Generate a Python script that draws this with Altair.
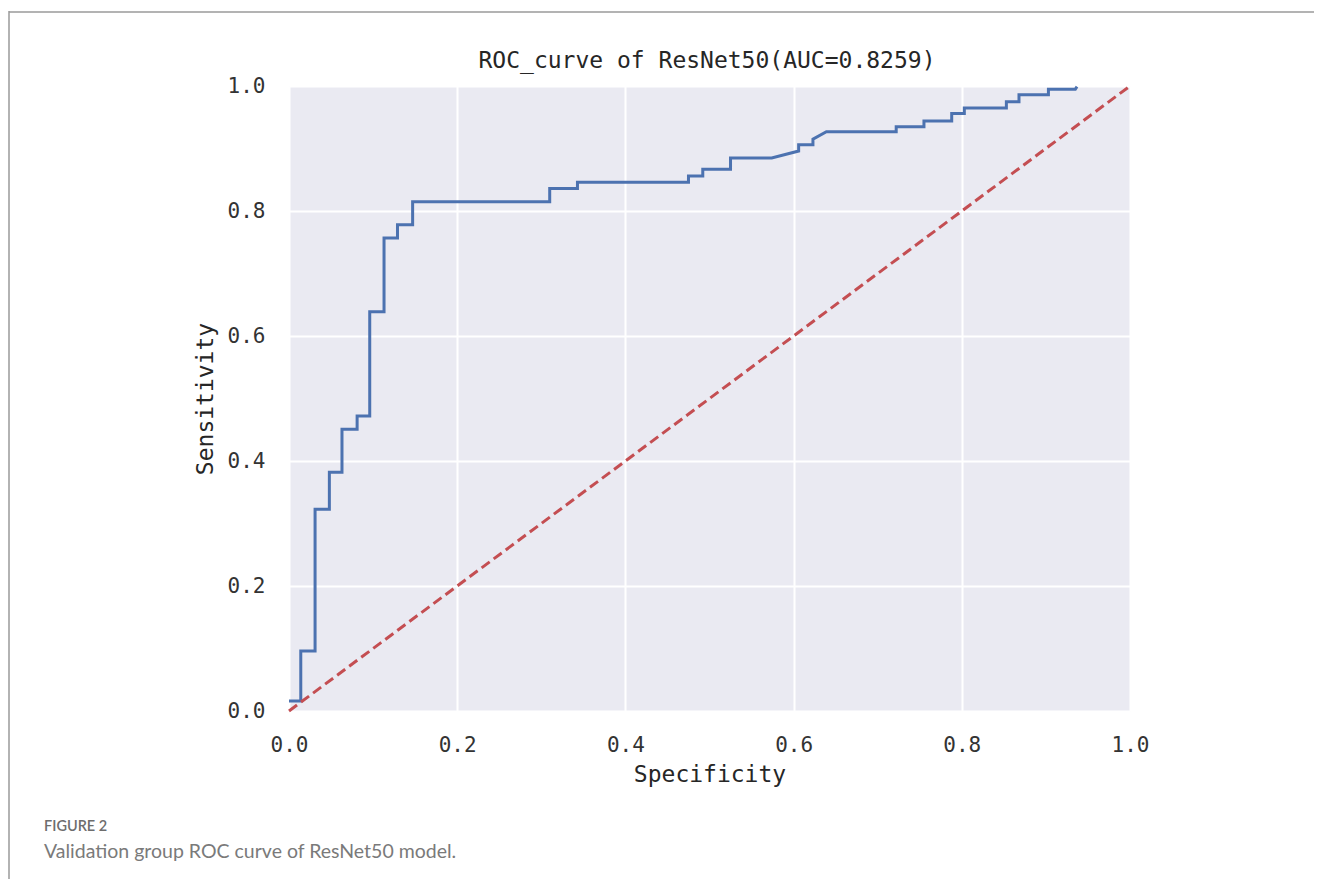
import altair as alt
import pandas as pd

# ROC curve points (false positive rate axis labelled "Specificity", true positive rate "Sensitivity")
fpr = [0.0, 0.014, 0.014, 0.031, 0.031, 0.048, 0.048, 0.063, 0.063, 0.081, 0.081, 0.096,
       0.096, 0.113, 0.113, 0.129, 0.129, 0.147, 0.147, 0.310, 0.310, 0.343, 0.343, 0.475,
       0.475, 0.492, 0.492, 0.525, 0.525, 0.574, 0.606, 0.606, 0.623, 0.623, 0.639, 0.722,
       0.722, 0.755, 0.755, 0.788, 0.788, 0.803, 0.803, 0.853, 0.853, 0.868, 0.868, 0.903,
       0.903, 0.935, 0.937]
tpr = [0.016, 0.016, 0.096, 0.096, 0.323, 0.323, 0.382, 0.382, 0.451, 0.451, 0.472, 0.472,
       0.639, 0.639, 0.757, 0.757, 0.778, 0.778, 0.815, 0.815, 0.836, 0.836, 0.846, 0.846,
       0.856, 0.856, 0.867, 0.867, 0.885, 0.885, 0.896, 0.906, 0.906, 0.915, 0.927, 0.927,
       0.935, 0.935, 0.944, 0.944, 0.956, 0.956, 0.965, 0.965, 0.975, 0.975, 0.986, 0.986,
       0.995, 0.995, 0.999]

diag_x = [0.0, 1.0]
diag_y = [0.0, 1.0]

tick_values = [0.0, 0.2, 0.4, 0.6, 0.8, 1.0]

title_text = "ROC_curve of ResNet50(AUC=0.8259)"
x_title = "Specificity"
y_title = "Sensitivity"
fig_label = "FIGURE 2"
fig_caption = "Validation group ROC curve of ResNet50 model."

roc_df = pd.DataFrame({"fpr": fpr, "tpr": tpr, "i": list(range(len(fpr)))})
diag_df = pd.DataFrame({"fpr": diag_x, "tpr": diag_y, "i": [0, 1]})
one = pd.DataFrame({"a": [0]})

MONO = "DejaVu Sans Mono"

xenc = alt.X("fpr:Q", scale=alt.Scale(domain=[0, 1], nice=False),
             axis=alt.Axis(values=tick_values, format=".1f", title=x_title))
yenc = alt.Y("tpr:Q", scale=alt.Scale(domain=[0, 1], nice=False),
             axis=alt.Axis(values=tick_values, format=".1f", title=y_title))

roc = alt.Chart(roc_df).mark_line(color="#4C72B0", strokeWidth=3).encode(
    x=xenc, y=yenc, order="i:Q")

diag = alt.Chart(diag_df).mark_line(color="#C44E52", strokeWidth=3,
                                     strokeDash=[10, 5]).encode(
    x="fpr:Q", y="tpr:Q", order="i:Q")

title = alt.Chart(one).mark_text(font=MONO, fontSize=23, color="#262626",
                                 baseline="middle", align="center").encode(
    x=alt.value(418), y=alt.value(-25), text=alt.value(title_text))

frame_top = alt.Chart(one).mark_rule(color="#9a9a9a", strokeWidth=1.5).encode(
    x=alt.value(-280), x2=alt.value(1040), y=alt.value(-74))
frame_left = alt.Chart(one).mark_rule(color="#9a9a9a", strokeWidth=1.5).encode(
    x=alt.value(-280), y=alt.value(-75), y2=alt.value(820))

cap1 = alt.Chart(one).mark_text(font="Lato", fontSize=14.5, fontWeight=600,
                                color="#6d6d6d", align="left", baseline="middle").encode(
    x=alt.value(-245), y=alt.value(741), text=alt.value(fig_label))
cap2 = alt.Chart(one).mark_text(font="Lato", fontSize=19.5, color="#7a7a7a",
                                align="left", baseline="middle").encode(
    x=alt.value(-245), y=alt.value(766), text=alt.value(fig_caption))

chart = alt.layer(roc, diag, title, frame_top, frame_left, cap1, cap2).properties(
    width=841, height=625,
    padding={"left": 281, "top": 78, "right": 184, "bottom": 168},
    autosize=alt.AutoSizeParams(type="none"),
).configure_view(
    fill="#EAEAF2", strokeOpacity=0
).configure_axis(
    grid=True, gridColor="#ffffff", gridWidth=2,
    domain=False, ticks=False, labelFlush=False,
    labelFont=MONO, labelFontSize=21, labelColor="#333333",
    titleFont=MONO, titleFontSize=23, titleColor="#262626", titleFontWeight="normal",
).configure_axisX(
    labelPadding=23, titlePadding=8
).configure_axisY(
    labelPadding=24, titlePadding=10
)

chart.save("out.html", embed_options={"renderer": "svg", "actions": False})
